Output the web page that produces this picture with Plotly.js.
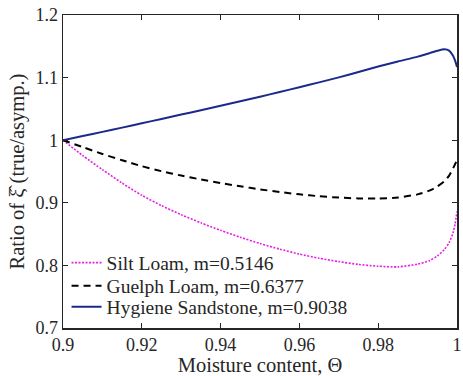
<!DOCTYPE html>
<html>
<head>
<meta charset="utf-8">
<script src="https://cdn.plot.ly/plotly-3.0.1.min.js"></script>
<style>html,body{margin:0;padding:0;background:#fff;}#chart{width:463px;height:376px;}</style>
</head>
<body>
<div id="chart"></div>
<script>
// Moisture content values
var theta = [0.9, 0.905, 0.91, 0.915, 0.92, 0.925, 0.93, 0.935, 0.94, 0.945, 0.95, 0.955, 0.96, 0.965, 0.97, 0.975, 0.98, 0.985, 0.99, 0.993, 0.995, 0.9968, 0.998, 0.999, 0.9995, 1.0];
// Series values (ratio true/asymp.)
var siltLoam = [1.0, 0.9755, 0.953, 0.9315, 0.912, 0.8955, 0.881, 0.868, 0.856, 0.845, 0.835, 0.826, 0.818, 0.8115, 0.806, 0.8015, 0.7987, 0.7977, 0.802, 0.8075, 0.815, 0.8255, 0.8365, 0.852, 0.866, 0.886];
var guelphLoam = [1.0, 0.989, 0.978, 0.968, 0.9585, 0.9505, 0.9435, 0.9372, 0.9315, 0.9263, 0.9215, 0.9172, 0.9135, 0.9105, 0.9083, 0.907, 0.9068, 0.9085, 0.9135, 0.9195, 0.926, 0.9345, 0.9435, 0.955, 0.9615, 0.968];
var hygieneSandstone = [1.0, 1.0066, 1.0133, 1.0201, 1.027, 1.0339, 1.0409, 1.0479, 1.055, 1.0622, 1.0695, 1.077, 1.0846, 1.0924, 1.1004, 1.1088, 1.1176, 1.1258, 1.1335, 1.139, 1.1428, 1.1452, 1.1432, 1.135, 1.1275, 1.117];
var seriesNames = ["Silt Loam, m=0.5146", "Guelph Loam, m=0.6377", "Hygiene Sandstone, m=0.9038"];
// Tick labels
var xTickVals = [0.9, 0.92, 0.94, 0.96, 0.98, 1.0];
var xTickText = ["0.9", "0.92", "0.94", "0.96", "0.98", "1"];
var yTickVals = [0.7, 0.8, 0.9, 1.0, 1.1, 1.2];
var yTickText = ["0.7", "0.8", "0.9", "1", "1.1", "1.2"];

var FONT = "Liberation Serif";
var AX = "#262626";
var TICKFS = 18;
var TXTFS = 19.5;
var TITLEFS = 20.5;

var traces = [
  {x: theta, y: siltLoam, name: seriesNames[0], mode: "lines", legend: "legend",
   line: {color: "#e61ee6", width: 1.6, dash: "2px,1.5px", shape: "spline", smoothing: 0.6}},
  {x: theta, y: guelphLoam, name: seriesNames[1], mode: "lines", legend: "legend2",
   line: {color: "#000000", width: 2, dash: "7px,5px", shape: "spline", smoothing: 0.6}},
  {x: theta, y: hygieneSandstone, name: seriesNames[2], mode: "lines", legend: "legend3",
   line: {color: "#1a2a8c", width: 2, shape: "spline", smoothing: 0.6}}
];

function leg(yv) {
  return {x: 0.009, y: yv, xanchor: "left", yanchor: "middle",
          bgcolor: "rgba(255,255,255,0)", borderwidth: 0,
          font: {family: FONT, size: TXTFS, color: AX}};
}

var layout = {
  width: 463, height: 376,
  margin: {l: 63, r: 5.5, t: 15, b: 48},
  paper_bgcolor: "#ffffff", plot_bgcolor: "#ffffff",
  font: {family: FONT, size: TICKFS, color: AX},
  showlegend: true,
  legend: leg(0.2077),
  legend2: leg(0.134),
  legend3: leg(0.067),
  xaxis: {range: [0.9, 1.0], tickvals: xTickVals, ticktext: xTickText,
          ticks: "inside", ticklen: 5, tickwidth: 1.2, tickcolor: AX,
          showgrid: false, zeroline: false, showline: true, mirror: "ticks",
          linecolor: AX, linewidth: 1.5,
          tickfont: {family: FONT, size: TICKFS, color: AX},
          title: {text: "Moisture content, Θ", font: {family: FONT, size: TITLEFS, color: AX}, standoff: 0}},
  yaxis: {range: [0.7, 1.2], tickvals: yTickVals, ticktext: yTickText,
          ticks: "inside", ticklen: 5, tickwidth: 1.2, tickcolor: AX,
          showgrid: false, zeroline: false, showline: true, mirror: "ticks",
          linecolor: AX, linewidth: 1.5,
          tickfont: {family: FONT, size: TICKFS, color: AX},
          title: {text: "Ratio of ξ\u0302 (true/asymp.)", font: {family: FONT, size: TITLEFS, color: AX}, standoff: 5}}
};

Plotly.newPlot("chart", traces, layout, {staticPlot: true, displayModeBar: false});
</script>
</body>
</html>
